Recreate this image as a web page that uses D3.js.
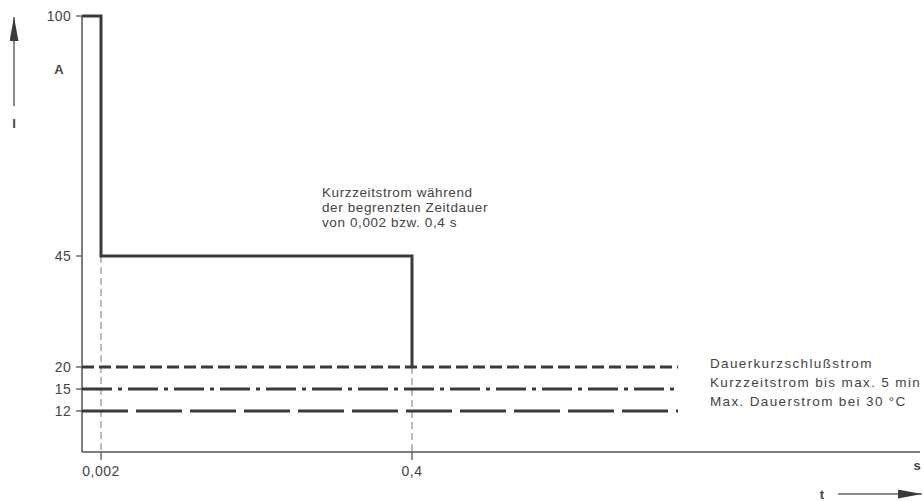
<!DOCTYPE html>
<html>
<head>
<meta charset="utf-8">
<script src="https://cdn.jsdelivr.net/npm/d3@7"></script>
<style>
body { margin: 0; background: #fff; }
svg text { font-family: "Liberation Sans", Arial, sans-serif; fill: #444; }
</style>
</head>
<body>
<script>
var width = 924, height = 502;

// data
var yTicks = [100, 45, 20, 15, 12];
var xTicks = [0.002, 0.4];
var xTickLabels = ["0,002", "0,4"];
var pulseT = [0, 0.002, 0.002, 0.4, 0.4];
var pulseI = [100, 100, 45, 45, 20];
var levelValues = [20, 15, 12];
var levelNames = ["Dauerkurzschlußstrom", "Kurzzeitstrom bis max. 5 min", "Max. Dauerstrom bei 30 °C"];
var levelDash = ["12,5", "30,6,4,6", "46,8"];
var lineEnd = 0.7;
var noteLines = ["Kurzzeitstrom während", "der begrenzten Zeitdauer", "von 0,002 bzw. 0,4 s"];

var svg = d3.select("body").append("svg")
    .attr("width", width)
    .attr("height", height);

// schematic (not to scale) axes
var x = d3.scaleLinear()
    .domain([0, 0.002, 0.4, 0.7, 1])
    .range([82, 101, 412, 678, 920]);
var y = d3.scaleLinear()
    .domain([0, 12, 15, 20, 45, 100])
    .range([452, 411, 389, 367, 256, 16]);

var ink = "#3a3a3a";

// axes lines
svg.append("line").attr("x1", x(0)).attr("y1", y(100)).attr("x2", x(0)).attr("y2", y(0))
    .attr("stroke", "#555").attr("stroke-width", 1.5);
svg.append("line").attr("x1", x(0)).attr("y1", y(0)).attr("x2", x(1)).attr("y2", y(0))
    .attr("stroke", "#555").attr("stroke-width", 1.5);

// y ticks
var yt = svg.selectAll(".yt").data(yTicks).enter().append("g");
yt.append("line").attr("x1", x(0) - 6).attr("x2", x(0))
    .attr("y1", d => y(d)).attr("y2", d => y(d))
    .attr("stroke", "#555").attr("stroke-width", 1.3);
yt.append("text").attr("x", x(0) - 11).attr("y", d => y(d) + 5)
    .attr("text-anchor", "end").attr("font-size", 14).attr("letter-spacing", 0.3).text(d => d);

// x ticks, thin dashed guides
xTicks.forEach(function(t, i) {
    var top = t === 0.002 ? y(45) : y(20);
    svg.append("line").attr("x1", x(t)).attr("x2", x(t)).attr("y1", top).attr("y2", y(0))
        .attr("stroke", "#777").attr("stroke-width", 1).attr("stroke-dasharray", "7,4");
    svg.append("line").attr("x1", x(t)).attr("x2", x(t)).attr("y1", y(0)).attr("y2", y(0) + 8)
        .attr("stroke", "#555").attr("stroke-width", 1.3);
    svg.append("text").attr("x", x(t)).attr("y", y(0) + 24)
        .attr("text-anchor", "middle").attr("font-size", 14).attr("letter-spacing", 0.5).text(xTickLabels[i]);
});

// level lines
levelValues.forEach(function(v, i) {
    svg.append("line").attr("x1", x(0)).attr("x2", x(lineEnd))
        .attr("y1", y(v)).attr("y2", y(v))
        .attr("stroke", ink).attr("stroke-width", 3)
        .attr("stroke-dasharray", levelDash[i]);
    svg.append("text").attr("x", 710).attr("y", y(levelValues[0]) + 1 + i * 19)
        .attr("font-size", 13.5).attr("letter-spacing", 1.35).text(levelNames[i]);
});

// pulse
var line = d3.line().x(d => x(d[0])).y(d => y(d[1]));
svg.append("path").datum(d3.zip(pulseT, pulseI))
    .attr("d", line).attr("fill", "none")
    .attr("stroke", ink).attr("stroke-width", 3).attr("stroke-linejoin", "miter");

// note
svg.append("text").attr("x", 322).attr("y", 197).attr("font-size", 13.5).attr("letter-spacing", 0.6)
    .selectAll("tspan").data(noteLines).enter().append("tspan")
    .attr("x", 322).attr("dy", (d, i) => i === 0 ? 0 : 15).text(d => d);

// unit labels and arrows
svg.append("defs").append("marker").attr("id", "ah")
    .attr("viewBox", "0 0 24 9").attr("refX", 24).attr("refY", 4.5)
    .attr("markerWidth", 24).attr("markerHeight", 9).attr("markerUnits", "userSpaceOnUse")
    .attr("orient", "auto")
    .append("path").attr("d", "M0,0L24,4.5L0,9Z").attr("fill", ink);

svg.append("line").attr("x1", 14).attr("y1", 106).attr("x2", 14).attr("y2", 17)
    .attr("stroke", "#666").attr("stroke-width", 1.5).attr("marker-end", "url(#ah)");
svg.append("text").attr("x", 14).attr("y", 128).attr("text-anchor", "middle")
    .attr("font-size", 13).attr("font-weight", "bold").text("I");
svg.append("text").attr("x", 59).attr("y", 74).attr("text-anchor", "middle")
    .attr("font-size", 13).attr("font-weight", "bold").text("A");

svg.append("line").attr("x1", 838).attr("y1", 494).attr("x2", 922).attr("y2", 494)
    .attr("stroke", "#666").attr("stroke-width", 1.5).attr("marker-end", "url(#ah)");
svg.append("text").attr("x", 822).attr("y", 499).attr("text-anchor", "middle")
    .attr("font-size", 13).attr("font-weight", "bold").text("t");
svg.append("text").attr("x", 917).attr("y", 470).attr("text-anchor", "middle")
    .attr("font-size", 13).attr("font-weight", "bold").text("s");
</script>
</body>
</html>
